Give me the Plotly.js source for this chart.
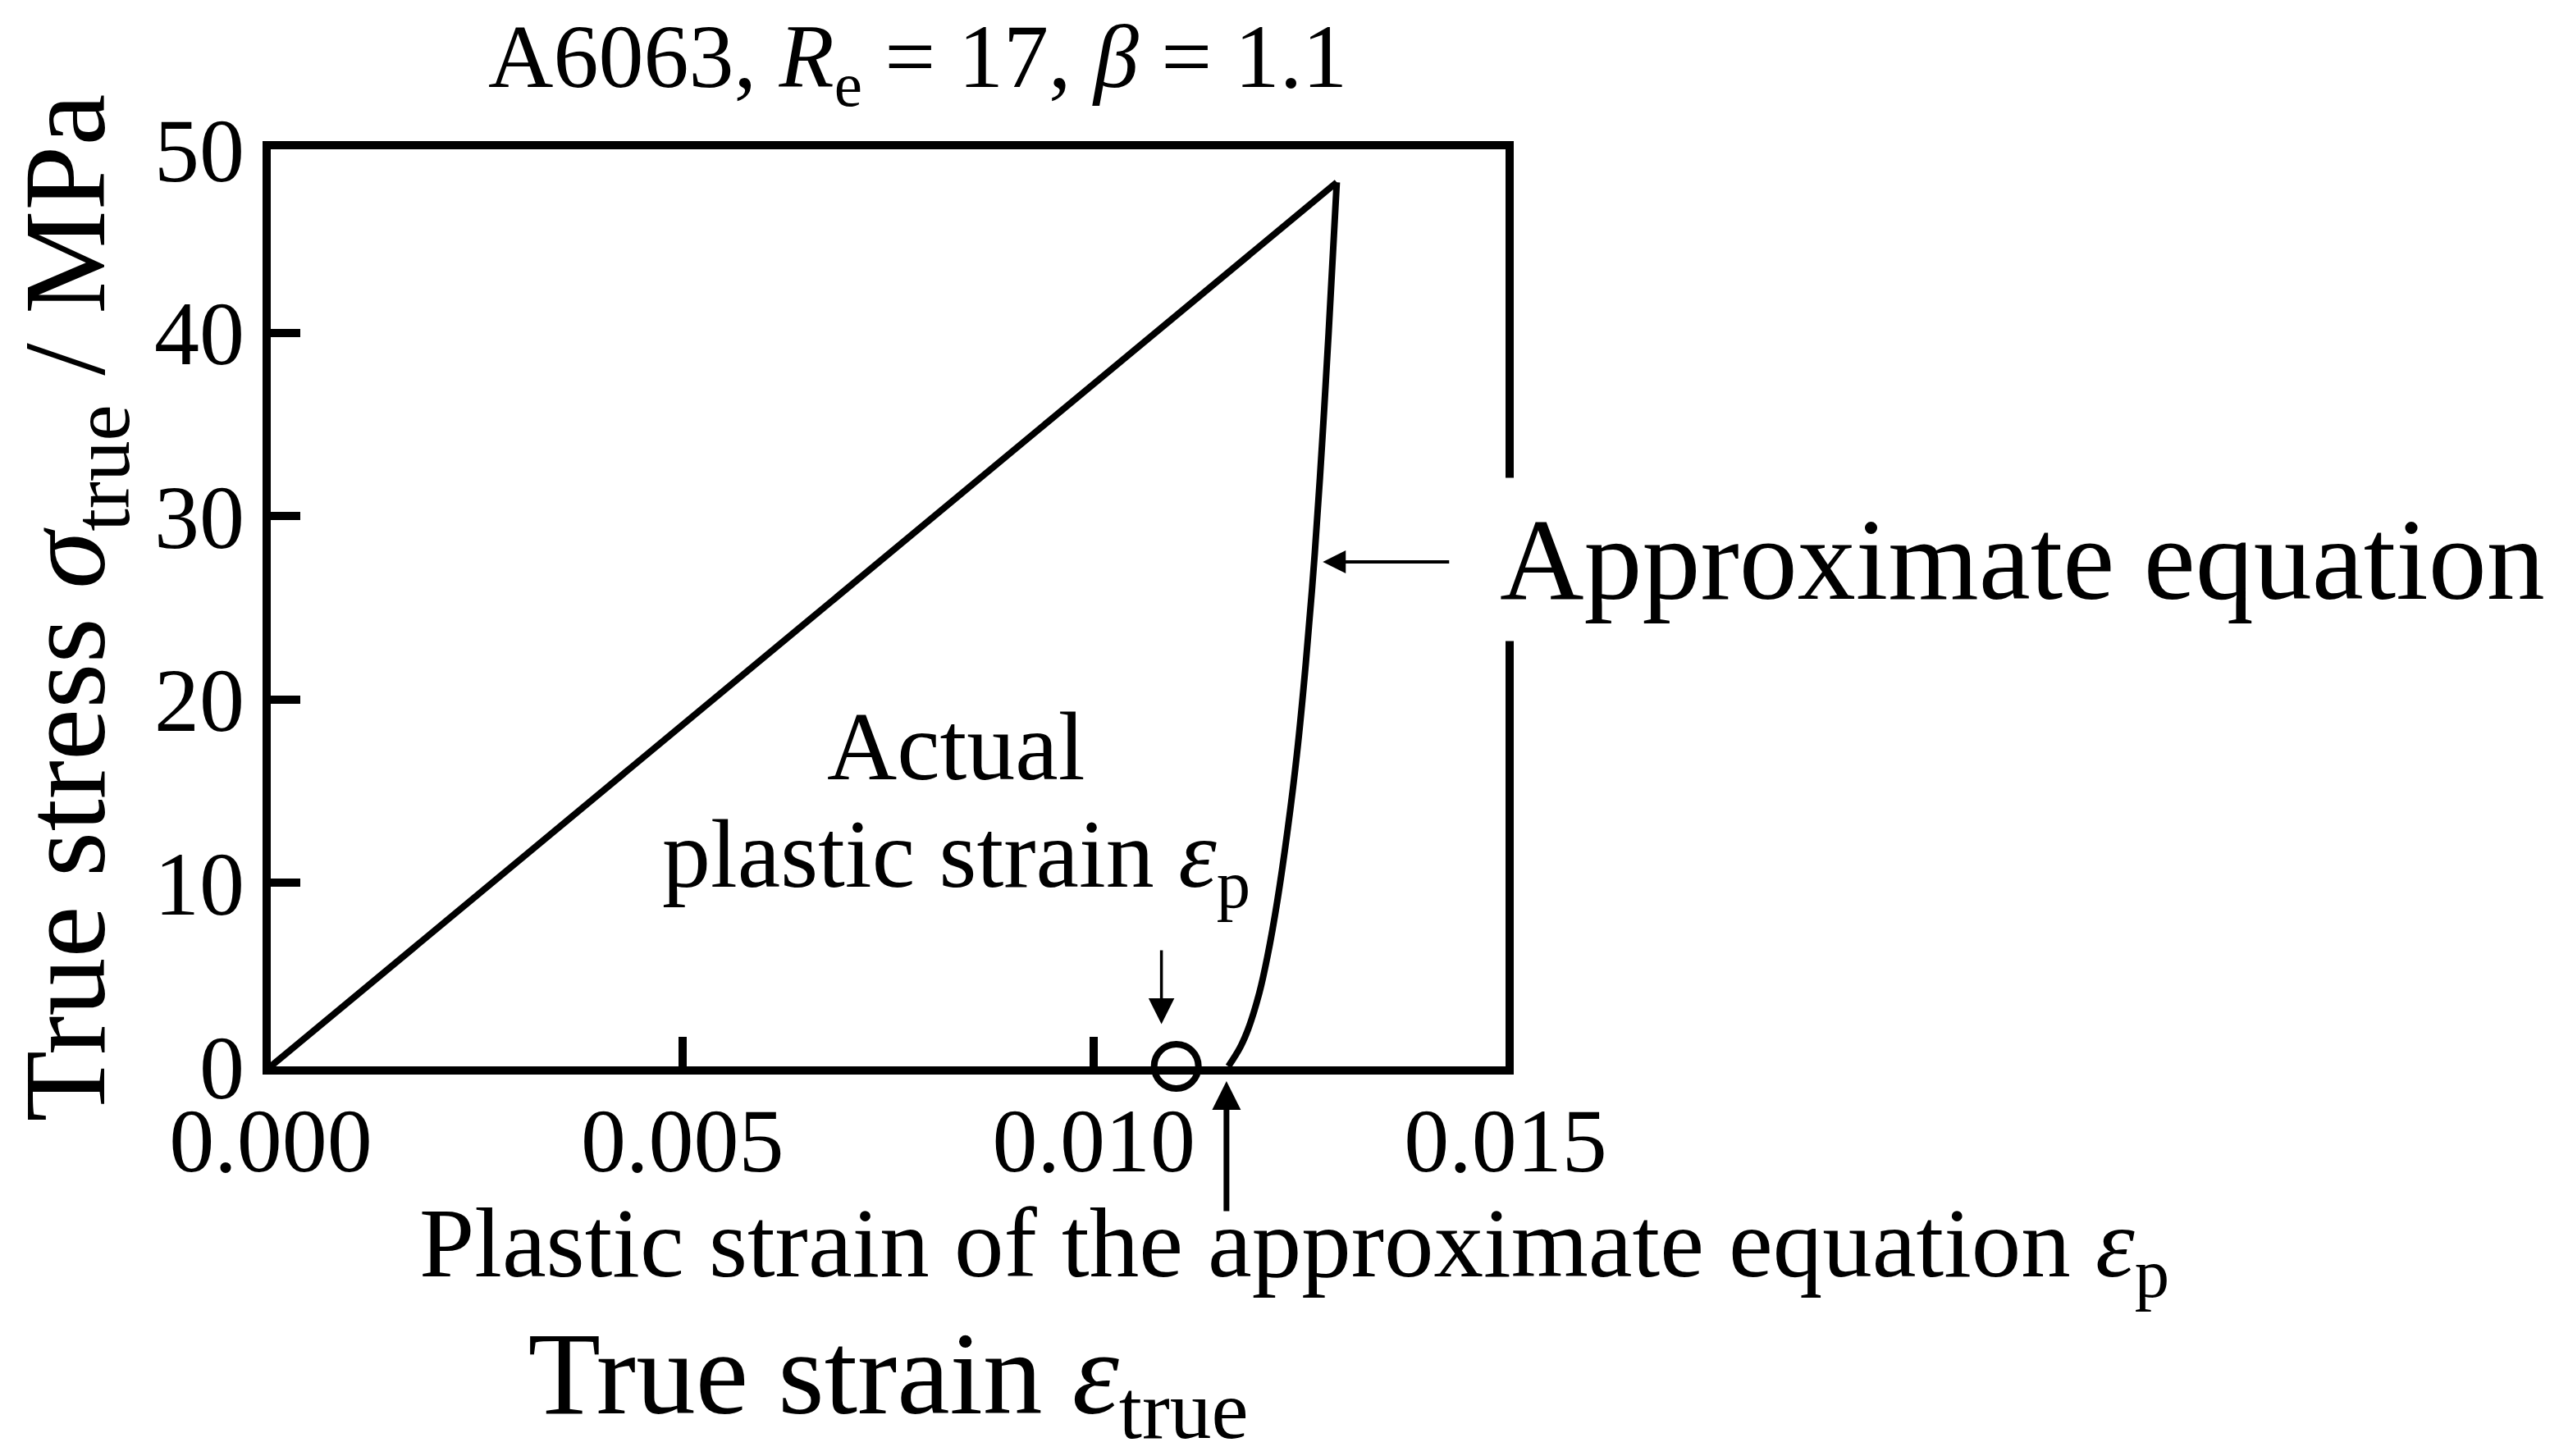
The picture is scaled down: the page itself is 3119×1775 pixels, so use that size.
<!DOCTYPE html>
<html>
<head>
<meta charset="utf-8">
<script src="https://cdn.plot.ly/plotly-3.0.1.min.js"></script>
<style>
  html, body { margin: 0; padding: 0; background: #ffffff; }
  #chart { width: 3119px; height: 1775px; }
</style>
</head>
<body>
<div id="chart"></div>
<script>
// loading branch (straight line up to the peak)
const loadingStrain = [0, 0.01295];
const loadingStress = [0, 48.2];

// unloading branch given by the approximate equation
const unloadingStrain = [0.01295, 0.012851, 0.012772, 0.012683, 0.012574, 0.012465, 0.012356, 0.012227, 0.012108, 0.012009, 0.011871, 0.011772, 0.011633];
const unloadingStress = [48.2, 40, 34, 28, 22, 17, 13, 9, 6, 4, 2, 1, 0];

// actual plastic strain marker
const actualPlasticStrain = [0.011];
const actualPlasticStress = [0];

const xTickValues = [0, 0.005, 0.01, 0.015];
const xTickLabels = ["0.000", "0.005", "0.010", "0.015"];
const yTickValues = [0, 10, 20, 30, 40, 50];
const yTickLabels = ["0", "10", "20", "30", "40", "50"];

const FONT = "Liberation Serif, Times New Roman, serif";
const INK = "#000000";

function makeAxis(tickValues, tickLabels, range) {
  return {
    range,
    tickmode: "array",
    tickvals: tickValues,
    ticktext: tickLabels,
    ticks: "inside",
    ticklen: 36,
    tickwidth: 10,
    tickcolor: INK,
    showline: true,
    linewidth: 10,
    linecolor: INK,
    mirror: true,
    showgrid: false,
    zeroline: false,
    tickfont: { family: FONT, size: 110, color: INK },
  };
}

function buildTraces() {
  return [
    {
      type: "scatter",
      mode: "lines",
      x: loadingStrain,
      y: loadingStress,
      line: { color: INK, width: 8 },
      showlegend: false,
      cliponaxis: false,
    },
    {
      type: "scatter",
      mode: "lines",
      x: unloadingStrain,
      y: unloadingStress,
      line: { color: INK, width: 8, shape: "spline", smoothing: 1 },
      showlegend: false,
      cliponaxis: false,
    },
    {
      type: "scatter",
      mode: "markers",
      x: actualPlasticStrain,
      y: actualPlasticStress,
      marker: { symbol: "circle", size: 54, color: "#ffffff", line: { color: INK, width: 8 } },
      showlegend: false,
      cliponaxis: false,
    },
  ];
}

function buildAnnotations() {
  return [
    {
      text: "Actual",
      xref: "x", yref: "y",
      x: 0.00833, y: 17.4,
      xanchor: "center", yanchor: "middle",
      showarrow: false,
      font: { family: FONT, size: 118, color: INK },
    },
    {
      text: "plastic strain <i>ε</i><sub>p</sub>",
      xref: "x", yref: "y",
      x: 0.00833, y: 11.2,
      xanchor: "center", yanchor: "middle",
      showarrow: false,
      font: { family: FONT, size: 118, color: INK },
    },
    {
      // small arrow pointing at the actual plastic strain
      text: "",
      xref: "x", yref: "y", axref: "x", ayref: "y",
      x: 0.01082, y: 2.3, ax: 0.01082, ay: 6.4,
      showarrow: true, arrowhead: 2, arrowwidth: 3.5, arrowsize: 1.8, arrowcolor: INK,
    },
    {
      // arrow from below pointing at the approximate plastic strain
      text: "",
      xref: "x", yref: "paper",
      x: 0.01161, y: -0.016, ax: 0, ay: 160,
      showarrow: true, arrowhead: 2, arrowwidth: 7, arrowsize: 1.0, arrowcolor: INK,
    },
    {
      text: "",
      xref: "x", yref: "y", axref: "x", ayref: "y",
      x: 0.01278, y: 27.5, ax: 0.01433, ay: 27.5,
      showarrow: true, arrowhead: 2, arrowwidth: 4, arrowsize: 1.4, arrowcolor: INK,
    },
    {
      text: "Approximate equation",
      xref: "paper", yref: "y",
      x: 0.9815, y: 27.66,
      xanchor: "left", yanchor: "middle",
      showarrow: false,
      bgcolor: "#ffffff",
      borderpad: 20,
      font: { family: FONT, size: 142, color: INK },
    },
    {
      text: "Plastic strain of the approximate equation <i>ε</i><sub>p</sub>",
      xref: "paper", yref: "paper",
      x: 0.829, y: -0.2,
      xanchor: "center", yanchor: "middle",
      showarrow: false,
      font: { family: FONT, size: 121, color: INK },
    },
  ];
}

function buildLayout() {
  const xaxis = makeAxis(xTickValues, xTickLabels, [0, 0.015]);
  xaxis.ticklabelstandoff = -14;
  xaxis.title = {
    text: "True strain <i>ε</i><sub>true</sub>",
    font: { family: FONT, size: 145, color: INK },
    standoff: 180,
  };
  const yaxis = makeAxis(yTickValues, yTickLabels, [0, 50]);
  yaxis.ticklabelstandoff = 0;
  yaxis.title = {
    text: "True stress <i>σ</i><sub>true</sub> / MPa",
    font: { family: FONT, size: 142, color: INK },
    standoff: 60,
  };
  return {
    width: 3119,
    height: 1775,
    paper_bgcolor: "#ffffff",
    plot_bgcolor: "#ffffff",
    margin: { l: 330, r: 1284, t: 182, b: 475, pad: 0 },
    title: {
      text: "A6063, <i>R</i><sub>e</sub> = 17, <i>β</i> = 1.1",
      font: { family: FONT, size: 110, color: INK },
      xref: "paper",
      x: 0.524,
      xanchor: "center",
      yref: "container",
      y: 0.962,
      yanchor: "middle",
    },
    xaxis,
    yaxis,
    annotations: buildAnnotations(),
    showlegend: false,
  };
}

function main() {
  Plotly.newPlot("chart", buildTraces(), buildLayout(), { displayModeBar: false, staticPlot: true });
}

main();
</script>
</body>
</html>
